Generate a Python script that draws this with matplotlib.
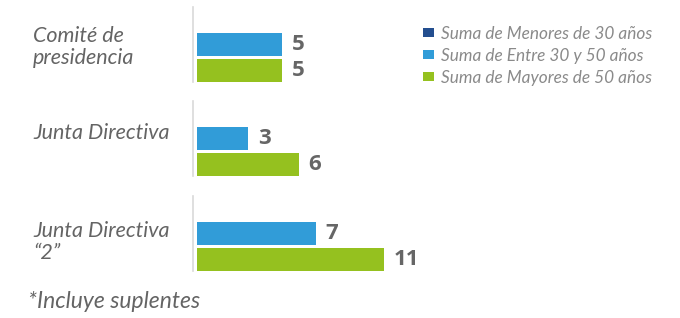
import matplotlib
matplotlib.use("Agg")
import matplotlib.pyplot as plt

# data
categories = ["Comité de\npresidencia", "Junta Directiva", "Junta Directiva\n“2”"]
series_names = ["Suma de Menores de 30 años", "Suma de Entre 30 y 50 años",
                "Suma de Mayores de 50 años"]
menores_30 = [0, 0, 0]
entre_30_50 = [5, 3, 7]
mayores_50 = [5, 6, 11]
footnote = "*Incluye suplentes"

colors = ["#234E8F", "#319CD8", "#95C11F"]
txt_gray = "#646464"
plt.rcParams["font.family"] = ["Lato", "DejaVu Sans"]

W, H = 680, 318
fig = plt.figure(figsize=(W / 100, H / 100), dpi=100)

# pixel layout of each panel (top of axis line) and label centre
panel_tops = [7, 101, 196]
panel_h = 75
label_y = [47, 133, 242]
px_per_unit = 17.0
ax_left, ax_right = 193, 470

handles = None
for i, cat in enumerate(categories):
    top = panel_tops[i]
    ax = fig.add_axes([ax_left / W, 1 - (top + panel_h) / H,
                       (ax_right - ax_left) / W, panel_h / H])
    x0 = -4 / px_per_unit
    ax.set_xlim(x0, x0 + (ax_right - ax_left) / px_per_unit)
    ax.set_ylim(-0.44, 2.44)
    vals = [menores_30[i], entre_30_50[i], mayores_50[i]]
    ypos = [2, 1, 0]
    bars = []
    for v, y, c in zip(vals, ypos, colors):
        b = ax.barh(y, v, height=0.885, color=c)
        bars.append(b)
        if v > 0:
            ax.annotate(str(v), (v, y), xytext=(7, 0), textcoords="offset points",
                        ha="left", va="center", fontsize=16, fontweight="bold",
                        family="Open Sans", color="#666666")
    if handles is None:
        handles = bars
    for s in ["top", "right", "bottom"]:
        ax.spines[s].set_visible(False)
    ax.spines["left"].set_color("#d9d9d9")
    ax.spines["left"].set_linewidth(1.2)
    ax.set_xticks([])
    ax.set_yticks([])
    ax.patch.set_alpha(0)
    fig.text(33 / W, 1 - label_y[i] / H, cat, ha="left", va="center",
             fontsize=15.5, style="italic", color=txt_gray, linespacing=1.15)

fig.text(28 / W, 1 - 302 / H, footnote, ha="left", va="center",
         fontsize=16.5, style="italic", color=txt_gray)

fig.legend(handles, series_names, loc="upper left",
           bbox_to_anchor=(414 / W, 1 - 17 / H), frameon=False,
           handlelength=0.66, handleheight=0.42,
           handletextpad=0.4, labelspacing=0.35, borderpad=0,
           labelcolor="#8a8a8a", prop={"style": "italic", "size": 12.4})

fig.savefig("out.png", dpi=100)
